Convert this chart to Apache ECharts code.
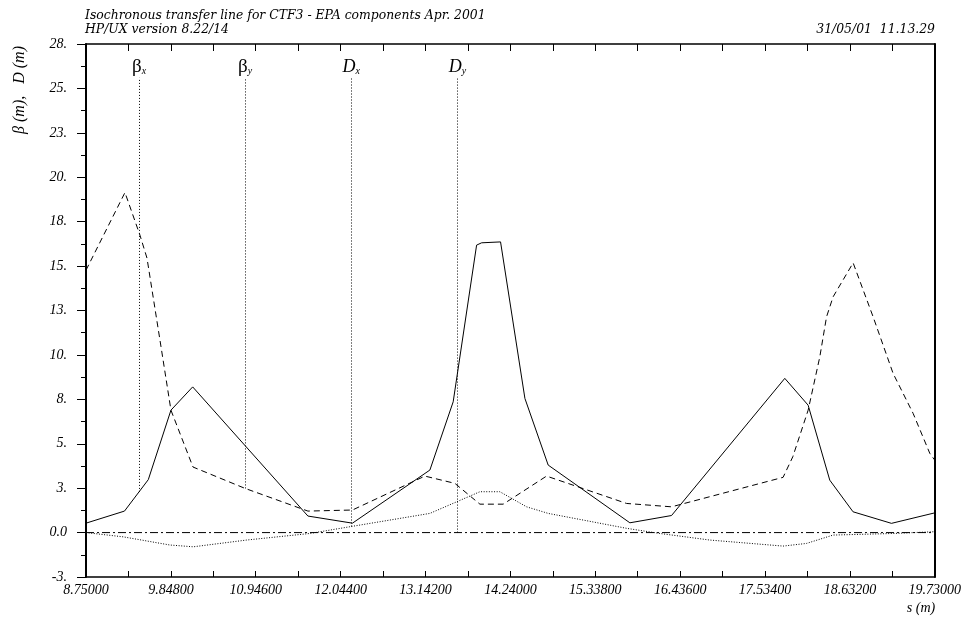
<!DOCTYPE html>
<html><head><meta charset="utf-8">
<script src="https://cdn.jsdelivr.net/npm/echarts@6/dist/echarts.min.js"></script>
<style>html,body{margin:0;padding:0;background:#fff}#c{width:964px;height:617px}</style>
</head><body><div id="c"></div>
<script>
// ---- axes ----
const sMin = 8.75, sMax = 19.73, sStep = 1.098;
const vMin = -2.5, vMax = 27.5, vStep = 2.5;
const xTickLabels = ['8.75000','9.84800','10.94600','12.04400','13.14200','14.24000','15.33800','16.43600','17.53400','18.63200','19.73000'];
const yTickLabels = ['-3.','0.0','3.','5.','8.','10.','13.','15.','18.','20.','23.','25.','28.'];

// ---- series (s in m, value in m) ----
const betaxS = [8.75, 9.248, 9.556, 9.849, 10.130, 11.621, 12.197, 13.199, 13.500, 13.803, 13.868, 14.113, 14.428, 14.729, 15.786, 16.325, 17.790, 18.092, 18.372, 18.673, 19.170, 19.73];
const betaxV = [0.53, 1.21, 2.98, 6.89, 8.20, 0.93, 0.53, 3.52, 7.36, 16.18, 16.31, 16.36, 7.55, 3.80, 0.55, 0.96, 8.68, 7.17, 2.95, 1.17, 0.52, 1.11];

const betayS = [8.75, 9.254, 9.448, 9.539, 9.707, 9.849, 10.134, 10.806, 11.621, 12.197, 13.134, 13.522, 13.846, 14.147, 14.708, 15.743, 16.325, 17.768, 17.894, 18.092, 18.243, 18.330, 18.415, 18.674, 18.933, 19.191, 19.450, 19.666, 19.73];
const betayV = [14.77, 19.14, 16.74, 15.45, 10.83, 6.89, 3.69, 2.49, 1.21, 1.27, 3.18, 2.77, 1.60, 1.60, 3.18, 1.64, 1.45, 3.11, 4.27, 6.89, 9.89, 12.14, 13.27, 15.18, 12.14, 8.96, 6.71, 4.46, 4.08];

const dxS = [8.75, 9.232, 9.836, 10.138, 10.828, 11.647, 12.164, 13.199, 13.544, 13.846, 14.104, 14.450, 14.729, 15.743, 16.174, 16.820, 17.768, 18.071, 18.415, 19.191, 19.73];
const dxV = [0.0, -0.24, -0.70, -0.80, -0.42, -0.05, 0.33, 1.08, 1.73, 2.30, 2.30, 1.45, 1.08, 0.24, -0.05, -0.42, -0.76, -0.61, -0.14, -0.05, 0.05];

const dyS = [8.75, 19.73];
const dyV = [0.0, 0.0];

// ---- curve key labels ----
const keyNames = ['βx', 'βy', 'Dx', 'Dy'];
const keyS = [9.436, 10.809, 12.181, 13.554];
const keyTop = 25.6;

function zip(S, V) { return S.map((s, i) => [s, V[i]]); }
function interp(S, V, s) {
  for (let i = 0; i < S.length - 1; i++) {
    if (s >= S[i] && s <= S[i + 1]) {
      const t = (s - S[i]) / (S[i + 1] - S[i]);
      return V[i] + t * (V[i + 1] - V[i]);
    }
  }
  return V[V.length - 1];
}

const FONT = 'Liberation Serif';
const TFONT = 'DejaVu Serif';
const black = '#000';

function keyLabel(i) {
  const n = keyNames[i];
  const main = n.charAt(0), sub = n.charAt(1);
  return (main === 'β' ? '{b|β}' : '{d|D}') + '{s|' + sub + '}';
}

function mkSeries(name, S, V, type, idx) {
  const s = {
    name: name, type: 'line', data: zip(S, V), showSymbol: false, symbol: 'none',
    lineStyle: { color: black, width: 1, type: type }, silent: true, z: 3
  };
  if (idx !== undefined) {
    const xs = keyS[idx];
    s.markLine = {
      silent: true, symbol: ['none', 'none'], animation: false,
      lineStyle: { color: black, width: 1, type: [1, 2] },
      label: {
        show: true, position: 'end', distance: 1,
        formatter: () => keyLabel(idx),
        rich: {
          b: { fontFamily: FONT, fontSize: 19, color: black, verticalAlign: 'bottom', lineHeight: 16 },
          d: { fontFamily: FONT, fontStyle: 'italic', fontSize: 18, color: black, verticalAlign: 'bottom', lineHeight: 16 },
          s: { fontFamily: FONT, fontStyle: 'italic', fontSize: 10, color: black, verticalAlign: 'bottom', lineHeight: 10 }
        }
      },
      data: [[{ coord: [xs, interp(S, V, xs)] }, { coord: [xs, keyTop] }]]
    };
  }
  return s;
}

const chart = echarts.init(document.getElementById('c'), null, { renderer: 'canvas' });
const labelFont = { fontFamily: FONT, fontStyle: 'italic', fontSize: 14, color: black };
const titleStyle = { fontFamily: TFONT, fontStyle: 'italic', fontWeight: 'normal', fontSize: 12.4, color: black };

chart.setOption({
  animation: false,
  backgroundColor: '#fff',
  title: [
    { text: 'Isochronous transfer line for CTF3 - EPA components Apr. 2001', left: 85, top: 10, padding: 0, textStyle: titleStyle },
    { text: 'HP/UX version 8.22/14', left: 85, top: 24, padding: 0, textStyle: titleStyle },
    { text: '31/05/01  11.13.29', right: 29, top: 24, padding: 0, textStyle: titleStyle }
  ],
  grid: { left: 86, right: 29, top: 44, bottom: 40, containLabel: false },
  xAxis: [
    {
      type: 'value', position: 'bottom', min: sMin, max: sMax, interval: sStep,
      axisLine: { show: true, onZero: false, lineStyle: { color: black, width: 1.5 } },
      axisTick: { show: true, inside: true, length: 6, lineStyle: { color: black, width: 1 } },
      minorTick: { show: true, splitNumber: 2, length: 6, lineStyle: { color: black, width: 1 } },
      splitLine: { show: false },
      axisLabel: Object.assign({ margin: 6, formatter: v => xTickLabels[Math.round((v - sMin) / sStep)] || '' }, labelFont)
    },
    {
      type: 'value', position: 'top', min: sMin, max: sMax, interval: sStep,
      axisLine: { show: true, onZero: false, lineStyle: { color: black, width: 1.5 } },
      axisTick: { show: true, inside: true, length: 7, lineStyle: { color: black, width: 1 } },
      minorTick: { show: true, splitNumber: 2, length: 7, lineStyle: { color: black, width: 1 } },
      splitLine: { show: false }, axisLabel: { show: false }
    }
  ],
  yAxis: [
    {
      type: 'value', position: 'left', min: vMin, max: vMax, interval: vStep,
      axisLine: { show: true, onZero: false, lineStyle: { color: black, width: 2 } },
      axisTick: { show: true, inside: false, length: 9, lineStyle: { color: black, width: 1 } },
      minorTick: { show: true, splitNumber: 2, length: 5, lineStyle: { color: black, width: 1 } },
      splitLine: { show: false },
      axisLabel: Object.assign({ margin: 19, formatter: v => yTickLabels[Math.round((v - vMin) / vStep)] || '' }, labelFont)
    },
    {
      type: 'value', position: 'right', min: vMin, max: vMax, interval: vStep,
      axisLine: { show: true, onZero: false, lineStyle: { color: black, width: 2 } },
      axisTick: { show: false }, minorTick: { show: false }, splitLine: { show: false }, axisLabel: { show: false }
    }
  ],
  graphic: [
    { type: 'text', x: 20, y: 90, rotation: Math.PI / 2,
      style: { text: 'β (m),   D (m)', font: 'italic 16px "Liberation Serif"', fill: black, align: 'center', verticalAlign: 'middle' } },
    { type: 'text', x: 921, y: 608,
      style: { text: 's (m)', font: 'italic 14px "Liberation Serif"', fill: black, align: 'center', verticalAlign: 'middle' } }
  ],
  series: [
    mkSeries('Dy', dyS, dyV, [8, 3, 2, 3], 3),
    mkSeries('Dx', dxS, dxV, [1, 1.6], 2),
    mkSeries('βy', betayS, betayV, [6, 4], 1),
    mkSeries('βx', betaxS, betaxV, 'solid', 0)
  ]
});
</script>
</body></html>
